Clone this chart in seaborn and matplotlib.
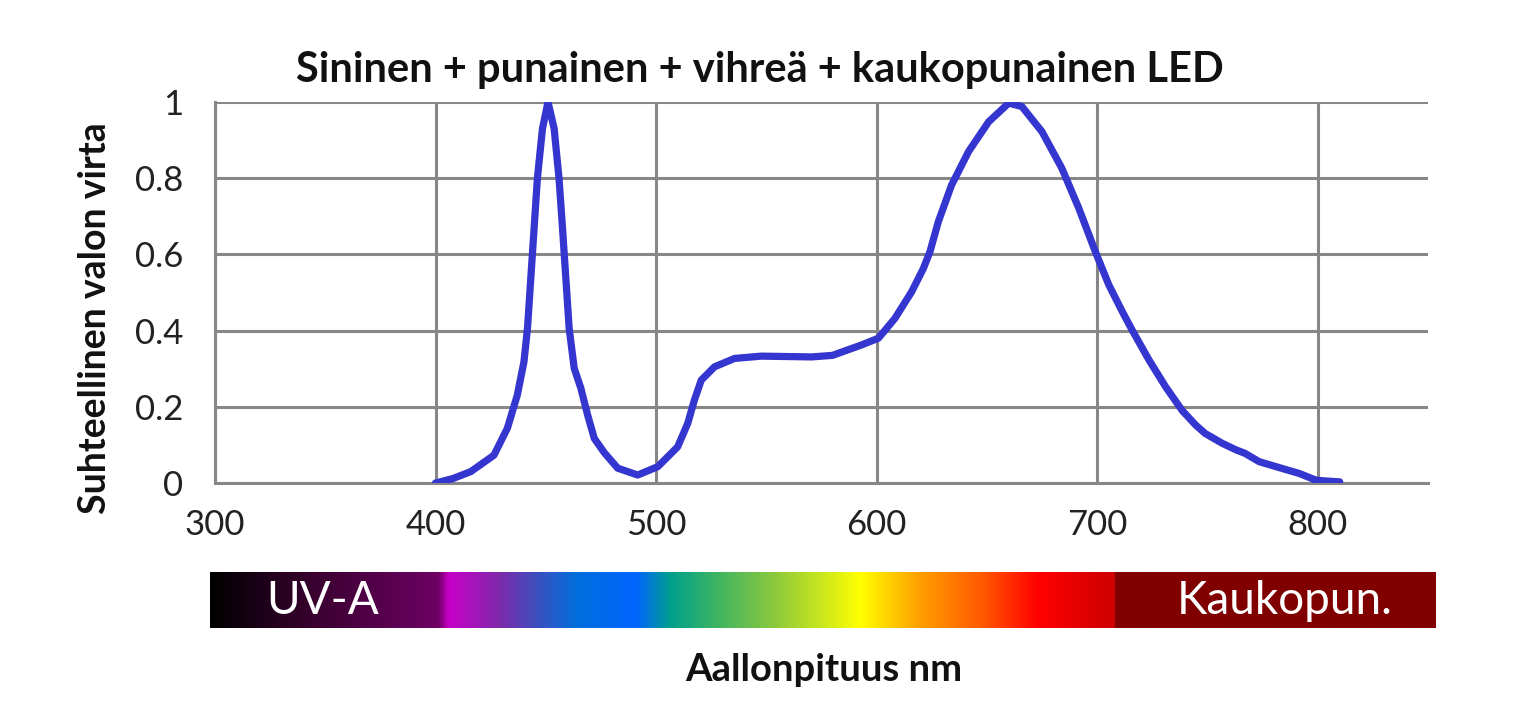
import numpy as np
import pandas as pd
import matplotlib
matplotlib.use('Agg')
import matplotlib.pyplot as plt
import seaborn as sns
from matplotlib.colors import LinearSegmentedColormap

# spectrum (wavelength nm, relative flux)
wavelength = [400, 408, 416, 426.5, 432.6, 437.1, 440.1, 441.7, 443.2, 444.7, 446.2, 448.5, 451,
              453.8, 456, 457.6, 459.1, 460.6, 462.9, 465.9, 469, 472, 476.5, 482.6, 491.7, 500.8,
              509.8, 514.4, 517.4, 520.5, 526.5, 535.6, 547.7, 570.5, 580, 593, 600.8, 608.3, 615.9,
              621.2, 624.2, 628, 634, 641.7, 650.8, 659.9, 665.9, 675, 684, 691.7, 699.2, 705.3,
              711.4, 716, 723.5, 731, 738.6, 744.7, 749, 756.8, 763, 767, 773.5, 784, 791.7, 799,
              802.3, 810]
flux = [0.0, 0.012, 0.03, 0.073, 0.144, 0.231, 0.318, 0.406, 0.537, 0.668, 0.8, 0.93, 1.0,
        0.93, 0.8, 0.668, 0.537, 0.406, 0.301, 0.249, 0.178, 0.117, 0.08, 0.039, 0.021, 0.043,
        0.095, 0.157, 0.218, 0.27, 0.305, 0.327, 0.333, 0.331, 0.335, 0.362, 0.38, 0.432, 0.502,
        0.563, 0.607, 0.686, 0.782, 0.87, 0.948, 0.997, 0.988, 0.922, 0.826, 0.721, 0.607, 0.52,
        0.45, 0.40, 0.323, 0.253, 0.19, 0.152, 0.13, 0.104, 0.087, 0.078, 0.056, 0.038, 0.025, 0.008,
        0.006, 0.003]

# colour strip stops (nm, colour)
strip_nm = [297.7, 347, 401, 406, 428, 446, 464, 491, 507, 527, 554, 575, 593, 620, 648, 674, 708.9,
            709, 854.5]
strip_col = ['#000000', '#3c0032', '#6e0064', '#c800c8', '#8228aa', '#3c50be', '#006edc', '#0064ff',
             '#00a08c', '#3cb464', '#8cc83c', '#c8e61e', '#ffff00', '#ffa000', '#ff5a00', '#ff0000',
             '#cd0000', '#800000', '#800000']

df = pd.DataFrame({'nm': wavelength, 'flux': flux})

sns.set_style('white')
plt.rcParams['font.family'] = ['Lato', 'DejaVu Sans']

fig = plt.figure(figsize=(15.17, 7.28), dpi=100)
ax = fig.add_axes([0.1417, 0.3365, 0.7996, 0.5234])

grid_c = '#878787'
sns.lineplot(data=df, x='nm', y='flux', ax=ax, color='#3535d0', linewidth=5.2, zorder=3,
             solid_joinstyle='round', solid_capstyle='round')
ax.set_xlim(300, 850)
ax.set_ylim(0, 1)
ax.set_xticks([300, 400, 500, 600, 700, 800])
ax.set_yticks([0, 0.2, 0.4, 0.6, 0.8, 1])
ax.set_yticklabels(['0', '0.2', '0.4', '0.6', '0.8', '1'])
ax.grid(True, color=grid_c, linewidth=2.2)
ax.set_axisbelow(True)
for s in ['top', 'right']:
    ax.spines[s].set_visible(False)
for s in ['left', 'bottom']:
    ax.spines[s].set_color(grid_c)
    ax.spines[s].set_linewidth(2.2)
ax.tick_params(axis='both', direction='out', length=9, width=2.2, color=grid_c,
               labelsize=25, labelcolor='#222222')
ax.tick_params(axis='y', pad=14)
ax.tick_params(axis='x', pad=10)
ax.set_xlabel('')
ax.set_ylabel('')

# colour strip under the axis
cax = fig.add_axes([210 / 1517, 100 / 728, 1226 / 1517, 56 / 728])
pos = [(v - strip_nm[0]) / (strip_nm[-1] - strip_nm[0]) for v in strip_nm]
cmap = LinearSegmentedColormap.from_list('spec', list(zip(pos, strip_col)), N=1024)
grad = np.linspace(strip_nm[0], strip_nm[-1], 1200).reshape(1, -1)
cax.imshow(grad, aspect='auto', cmap=cmap, extent=[strip_nm[0], strip_nm[-1], 0, 1],
           vmin=strip_nm[0], vmax=strip_nm[-1])
cax.set_xlim(strip_nm[0], strip_nm[-1])
cax.axis('off')
cax.text(349, 0.48, 'UV-A', color='white', fontsize=33, ha='center', va='center')
cax.text(786, 0.48, 'Kaukopun.', color='white', fontsize=33, ha='center', va='center')

fig.text(760 / 1517, 1 - 70 / 728, 'Sininen + punainen + vihreä + kaukopunainen LED',
         fontsize=30, fontweight='bold', ha='center', va='center', color='#111111')
fig.text(95 / 1517, 1 - 318 / 728, 'Suhteellinen valon virta', rotation=90,
         fontsize=27, fontweight='bold', ha='center', va='center', color='#111111')
fig.text(824 / 1517, 1 - 670 / 728, 'Aallonpituus nm',
         fontsize=27.5, fontweight='bold', ha='center', va='center', color='#111111')

fig.savefig('out.png', dpi=100)
